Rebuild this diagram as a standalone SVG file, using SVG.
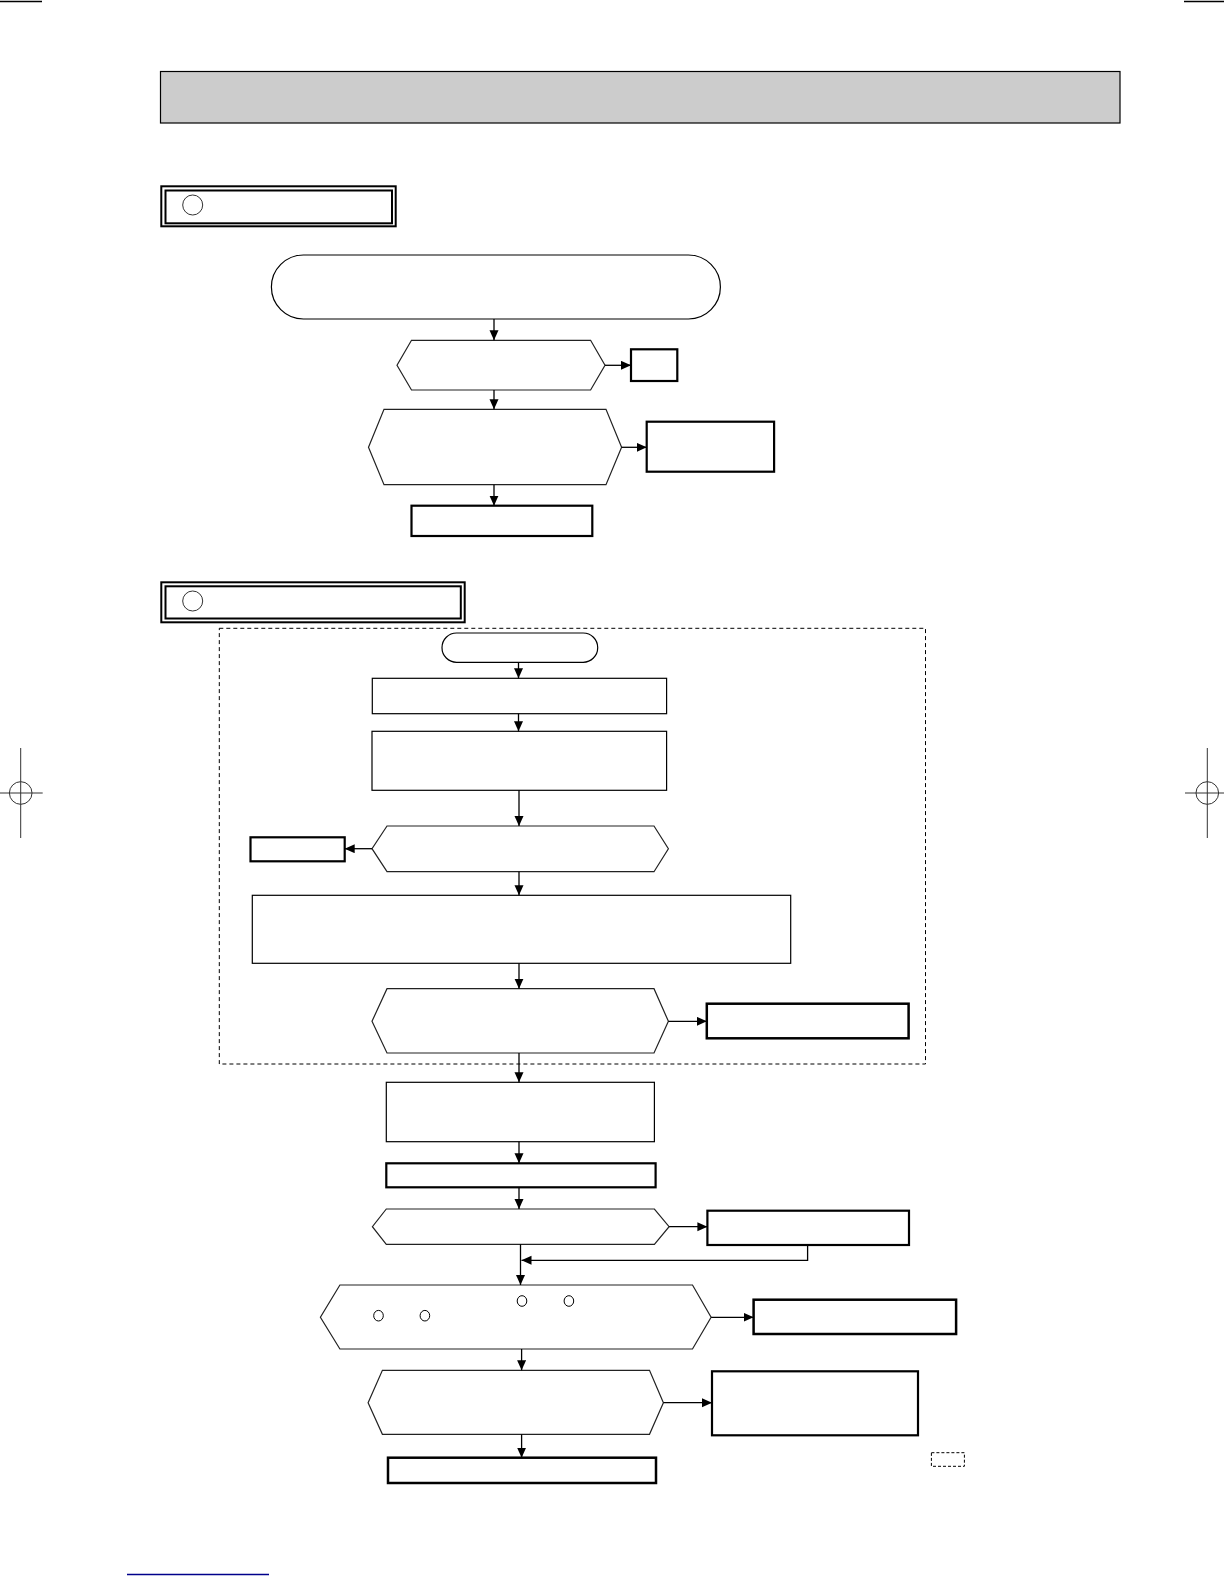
<svg xmlns="http://www.w3.org/2000/svg" width="1224" height="1584" viewBox="0 0 1224 1584">
<style>
.thin{fill:#fff;stroke:#000;stroke-width:1.2}
.hex{fill:#fff;stroke:#222;stroke-width:1.2}
.thick{fill:#fff;stroke:#000;stroke-width:2.2}
.conn{fill:none;stroke:#000;stroke-width:1.3}
.crop{fill:none;stroke:#333;stroke-width:1}
</style>
<defs>
<marker id="ah" markerUnits="userSpaceOnUse" markerWidth="11" markerHeight="10" refX="10" refY="4.5" orient="auto">
<path d="M0,0 L10,4.5 L0,9 z" fill="#000"/>
</marker>
</defs>
<rect width="1224" height="1584" fill="#fff"/>
<g id="cropmarks">
<line x1="0" y1="1.5" x2="42" y2="1.5" stroke="#000" stroke-width="1.5"/>
<line x1="1184" y1="1.5" x2="1224" y2="1.5" stroke="#000" stroke-width="1.5"/>
<line class="crop" x1="20.7" y1="748" x2="20.7" y2="838"/>
<line class="crop" x1="0" y1="793" x2="42.7" y2="793"/>
<circle class="crop" cx="20.7" cy="793" r="11.3"/>
<line class="crop" x1="1207.3" y1="748" x2="1207.3" y2="838"/>
<line class="crop" x1="1185" y1="793" x2="1224" y2="793"/>
<circle class="crop" cx="1207.3" cy="793" r="11.3"/>
<line x1="127" y1="1574.5" x2="269" y2="1574.5" stroke="#00008b" stroke-width="1.5"/>
</g>
<g id="title"><rect x="160.5" y="71.5" width="959.5" height="51.5" fill="#cccccc" stroke="#000" stroke-width="1.2"/></g>
<g id="header1">
<rect x="161.3" y="186.3" width="234.4" height="40" fill="#fff" stroke="#000" stroke-width="2"/>
<rect x="165.5" y="190.5" width="226.5" height="32.8" fill="none" stroke="#000" stroke-width="2"/>
<circle cx="192.7" cy="205" r="10" fill="none" stroke="#333" stroke-width="1"/>
</g>
<g id="n1"><rect x="271.4" y="255" width="449" height="64" rx="32" ry="32" class="thin"/></g>
<g id="n2"><polygon class="hex" points="411.5,340.3 590.6,340.3 605,365.3 590.6,390 411.5,390 397,365.3"/></g>
<g id="n3"><rect x="631" y="349.3" width="46.3" height="31.7" class="thick"/></g>
<g id="n4"><polygon class="hex" points="384,409.3 606,409.3 621.6,447.3 606,484.7 384,484.7 368.5,447.3"/></g>
<g id="n5"><rect x="646.7" y="421.7" width="127.4" height="50" class="thick"/></g>
<g id="n6"><rect x="411.5" y="505.7" width="180.8" height="30.3" class="thick"/></g>
<g id="header2">
<rect x="161.3" y="582.3" width="303.4" height="40" fill="#fff" stroke="#000" stroke-width="2"/>
<rect x="165.5" y="586.3" width="295.3" height="32.2" fill="none" stroke="#000" stroke-width="2"/>
<circle cx="192.7" cy="601" r="10" fill="none" stroke="#333" stroke-width="1"/>
</g>
<g id="dashedframe"><rect x="219.3" y="628.3" width="706.2" height="435.7" fill="none" stroke="#000" stroke-width="1" stroke-dasharray="4,3"/></g>
<g id="n7"><rect x="442" y="633" width="155.7" height="29.3" rx="14.6" ry="14.6" class="thin"/></g>
<g id="n8"><rect x="372.3" y="678.3" width="294.3" height="35.4" class="thin"/></g>
<g id="n9"><rect x="372" y="731.3" width="294.6" height="59" class="thin"/></g>
<g id="n10"><polygon class="hex" points="387,826 654,826 668.4,848.7 654,871.7 387,871.7 372,848.7"/></g>
<g id="n11"><rect x="250.5" y="837.3" width="94.2" height="24" class="thick"/></g>
<g id="n12"><rect x="252.3" y="895.3" width="538.4" height="68" class="thin"/></g>
<g id="n13"><polygon class="hex" points="387,988.7 654,988.7 668.4,1021.3 654,1053 387,1053 372,1021.3"/></g>
<g id="n14"><rect x="706.8" y="1003.7" width="201.8" height="34.6" fill="#fff" stroke="#000" stroke-width="2.5"/></g>
<g id="n15"><rect x="386.3" y="1082.3" width="268.1" height="59.4" class="thin"/></g>
<g id="n16"><rect x="386.3" y="1163.3" width="269.3" height="24" class="thick"/></g>
<g id="n17"><polygon class="hex" points="386.3,1209 654.4,1209 669.1,1226.7 654.4,1244.3 386.3,1244.3 372.4,1226.7"/></g>
<g id="n18"><rect x="707.4" y="1210.7" width="201.6" height="34.3" class="thick"/></g>
<g id="n19">
<polygon class="hex" points="339.9,1285 692.5,1285 711.1,1317.3 692.5,1349 339.9,1349 320.4,1317.3"/>
<ellipse cx="522" cy="1301" rx="4.8" ry="5.3" fill="none" stroke="#000" stroke-width="1"/>
<ellipse cx="568.9" cy="1301" rx="4.8" ry="5.3" fill="none" stroke="#000" stroke-width="1"/>
<ellipse cx="378.5" cy="1315.7" rx="4.8" ry="5.3" fill="none" stroke="#000" stroke-width="1"/>
<ellipse cx="424.9" cy="1315.7" rx="4.8" ry="5.3" fill="none" stroke="#000" stroke-width="1"/>
</g>
<g id="n20"><rect x="753.6" y="1299.7" width="202.5" height="34.3" fill="#fff" stroke="#000" stroke-width="2.5"/></g>
<g id="n21"><polygon class="hex" points="382.4,1370.3 649.5,1370.3 663.4,1402.7 649.5,1434.3 382.4,1434.3 368.1,1402.7"/></g>
<g id="n22"><rect x="712" y="1371.3" width="206" height="64" class="thick"/></g>
<g id="n23"><rect x="388" y="1457.7" width="268" height="25.3" fill="#fff" stroke="#000" stroke-width="2.5"/></g>
<g id="n24"><rect x="931.4" y="1452.7" width="33" height="13.6" fill="none" stroke="#000" stroke-width="1" stroke-dasharray="3,2"/></g>
<g id="connectors">
<line class="conn" x1="494" y1="319" x2="494" y2="340.3" marker-end="url(#ah)"/>
<line class="conn" x1="605" y1="365.3" x2="631" y2="365.3" marker-end="url(#ah)"/>
<line class="conn" x1="494" y1="390" x2="494" y2="409.3" marker-end="url(#ah)"/>
<line class="conn" x1="621.6" y1="447.3" x2="646.7" y2="447.3" marker-end="url(#ah)"/>
<line class="conn" x1="494" y1="484.7" x2="494" y2="505.7" marker-end="url(#ah)"/>
<line class="conn" x1="518.5" y1="662.3" x2="518.5" y2="678.3" marker-end="url(#ah)"/>
<line class="conn" x1="518.5" y1="713.7" x2="518.5" y2="731.3" marker-end="url(#ah)"/>
<line class="conn" x1="519" y1="790.3" x2="519" y2="826" marker-end="url(#ah)"/>
<line class="conn" x1="372" y1="848.7" x2="344.7" y2="848.7" marker-end="url(#ah)"/>
<line class="conn" x1="519" y1="871.7" x2="519" y2="895.3" marker-end="url(#ah)"/>
<line class="conn" x1="519" y1="963.3" x2="519" y2="988.7" marker-end="url(#ah)"/>
<line class="conn" x1="668.4" y1="1021.3" x2="706.8" y2="1021.3" stroke-width="2.2" marker-end="url(#ah)"/>
<line class="conn" x1="519" y1="1053" x2="519" y2="1082.3" marker-end="url(#ah)"/>
<line class="conn" x1="519" y1="1141.7" x2="519" y2="1163.3" marker-end="url(#ah)"/>
<line class="conn" x1="519" y1="1187.3" x2="519" y2="1209" marker-end="url(#ah)"/>
<line class="conn" x1="669.1" y1="1226.7" x2="707.4" y2="1226.7" marker-end="url(#ah)"/>
<line class="conn" x1="520.5" y1="1244.3" x2="520.5" y2="1285" marker-end="url(#ah)"/>
<polyline class="conn" points="807.6,1245 807.6,1260.3 521.5,1260.3" marker-end="url(#ah)"/>
<line class="conn" x1="711.1" y1="1317.3" x2="753.6" y2="1317.3" marker-end="url(#ah)"/>
<line class="conn" x1="521.6" y1="1349" x2="521.6" y2="1370.3" marker-end="url(#ah)"/>
<line class="conn" x1="663.4" y1="1402.7" x2="712" y2="1402.7" marker-end="url(#ah)"/>
<line class="conn" x1="521.6" y1="1434.3" x2="521.6" y2="1457.7" marker-end="url(#ah)"/>
</g>
</svg>
